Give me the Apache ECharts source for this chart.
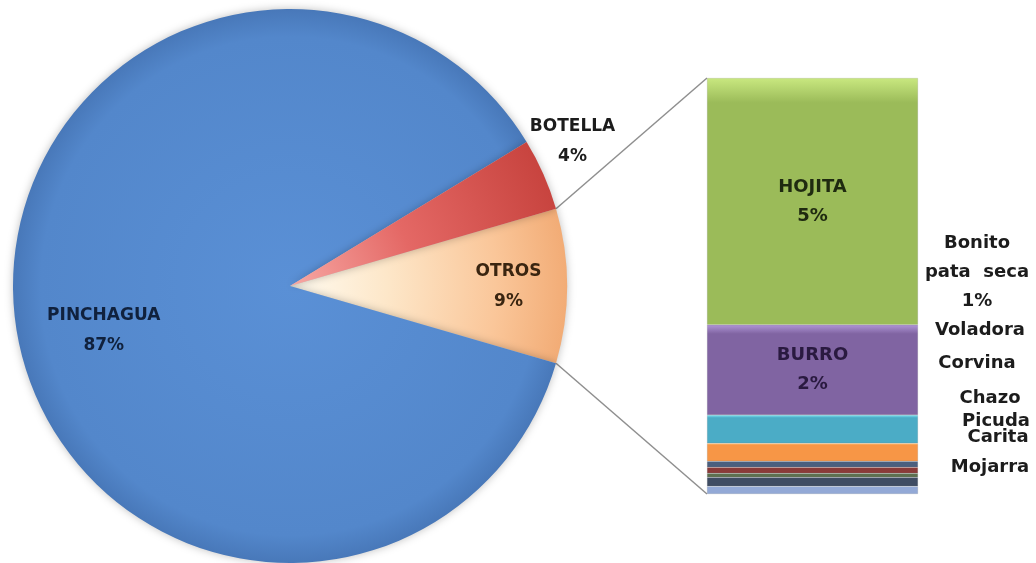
<!DOCTYPE html>
<html><head><meta charset="utf-8">
<script src="https://cdn.jsdelivr.net/npm/echarts@6/dist/echarts.min.js"></script>
<style>html,body{margin:0;padding:0;background:#fff}#c{width:1036px;height:563px}</style>
</head><body><div id="c"></div>
<script>
// ---- data ----
const pieCategories = ['PINCHAGUA', 'BOTELLA', 'OTROS'];
const pieValues = [86.8, 4.2, 9.0];
const otrosCategories = ['HOJITA', 'BURRO', 'Bonito\npata  seca', 'Voladora', 'Corvina', 'Chazo', 'Picuda', 'Carita', 'Mojarra'];
const otrosValues = [5.34, 1.95, 0.61, 0.39, 0.13, 0.13, 0.09, 0.19, 0.17];

// ---- styles ----
const FONT = 'DejaVu Sans';
const pieCenter = [290, 286], pieR = 277;
const gridBox = {left: 707, top: 78, width: 211, height: 416};
const pieColors = {
  'PINCHAGUA': [['0', '#5A90D6'], ['0.9', '#5387CB'], ['1', '#4878B9']],
  'BOTELLA': [['0', '#F7A8A4'], ['0.45', '#E46865'], ['1', '#C8443F']],
  'OTROS': [['0', '#FFFBF0'], ['0.35', '#FDE7C9'], ['0.75', '#FAC699'], ['1', '#F2AC76']]
};
const pieLabelOffsets = {'PINCHAGUA': [-46, 26], 'BOTELLA': [153, -87], 'OTROS': [77, 1]};
const pieTextColors = {'PINCHAGUA': '#10213d', 'BOTELLA': '#1c1c1c', 'OTROS': '#3a2510'};
const barColors = ['#9BBB59', '#8064A2', '#4BACC6', '#F79646', '#4A5F7E', '#8A3A38', '#5E7050', '#3F4C63', '#93A9D6'];
const barLight = ['#C9E880', '#B095D6', '#7FE8FA', '#FFD58A', '#6F83A3', '#B5605D', '#84987A', '#5F6E88', '#BCCDF0'];
const barTextColors = ['#1f2a10', '#2a1a40'];
// [dx, dy] of side labels relative to the segment's right edge/centre (null = inside label)
const sideLabelOffsets = [null, null, [59, -157], [62, -122], [59, -101], [72, -72], [78, -54], [80, -44], [72, -23]];

const pieTotal = pieValues.reduce((a, b) => a + b, 0);
const otrosTotal = otrosValues.reduce((a, b) => a + b, 0);
const otrosIdx = pieCategories.indexOf('OTROS');
const startAngle = pieValues[otrosIdx] / pieTotal * 180;

function radial(stops) {
  return {type: 'radial', x: pieCenter[0], y: pieCenter[1], r: pieR, global: true,
    colorStops: stops.map(s => ({offset: +s[0], color: s[1]}))};
}

// pie data ordered clockwise starting with OTROS
const order = [otrosIdx, ...pieCategories.map((_, i) => i).filter(i => i !== otrosIdx)];
const pieData = order.map(i => ({
  name: pieCategories[i], value: pieValues[i],
  itemStyle: {color: radial(pieColors[pieCategories[i]])},
  label: {offset: pieLabelOffsets[pieCategories[i]], color: pieTextColors[pieCategories[i]]}
}));

const series = [{
  type: 'pie', center: pieCenter, radius: pieR, startAngle: startAngle, clockwise: true,
  data: pieData, silent: true, animation: false,
  itemStyle: {shadowBlur: 8, shadowColor: 'rgba(0,0,0,0.25)'},
  label: {position: 'inside', fontFamily: FONT, fontWeight: 'bold', fontSize: 17, lineHeight: 30,
    formatter: p => p.name + '\n' + Math.round(p.percent) + '%'},
  labelLine: {show: false}
}];

for (let i = otrosCategories.length - 1; i >= 0; i--) {
  const off = sideLabelOffsets[i];
  series.push({
    type: 'bar', stack: 'otros', xAxisIndex: 0, yAxisIndex: 0, barCategoryGap: '0%',
    name: otrosCategories[i], data: [otrosValues[i]], animation: false, silent: true,
    itemStyle: {
      color: {type: 'linear', x: 0, y: 0, x2: 0, y2: 1, colorStops: [
        {offset: 0, color: barLight[i]}, {offset: 0.1, color: barColors[i]},
        {offset: 0.9, color: barColors[i]}, {offset: 1, color: barColors[i]}]},
      borderColor: 'rgba(120,120,120,0.35)', borderWidth: 0.5
    },
    label: {
      show: true, fontFamily: FONT, fontWeight: 'bold', fontSize: off ? 18 : 18, lineHeight: 29,
      position: off ? 'right' : 'inside', distance: 0, align: 'center', verticalAlign: 'middle',
      offset: off || [0, 0], color: off ? '#1c1c1c' : barTextColors[i],
      formatter: p => {
        const pct = Math.round(p.value / pieTotal * 100);
        return pct >= 1 ? p.seriesName + '\n' + pct + '%' : p.seriesName;
      }
    }
  });
}

const chart = echarts.init(document.getElementById('c'), null, {renderer: 'canvas'});
chart.setOption({
  backgroundColor: '#ffffff',
  animation: false,
  grid: gridBox,
  xAxis: {type: 'category', data: ['OTROS'], show: false},
  yAxis: {type: 'value', min: 0, max: otrosTotal, show: false},
  series: series
});

// connector lines from the OTROS slice edges to the bar corners
const a = startAngle * Math.PI / 180;
const pTop = [pieCenter[0] + pieR * Math.cos(a), pieCenter[1] - pieR * Math.sin(a)];
const pBot = [pieCenter[0] + pieR * Math.cos(-a), pieCenter[1] - pieR * Math.sin(-a)];
const yTop = chart.convertToPixel({yAxisIndex: 0}, otrosTotal);
const yBot = chart.convertToPixel({yAxisIndex: 0}, 0);
const xBar = gridBox.left;
chart.setOption({
  graphic: [
    {type: 'line', shape: {x1: pTop[0], y1: pTop[1], x2: xBar, y2: yTop}, style: {stroke: '#8f8f8f', lineWidth: 1.5}, silent: true},
    {type: 'line', shape: {x1: pBot[0], y1: pBot[1], x2: xBar, y2: yBot}, style: {stroke: '#8f8f8f', lineWidth: 1.5}, silent: true}
  ]
});
</script>
</body></html>
